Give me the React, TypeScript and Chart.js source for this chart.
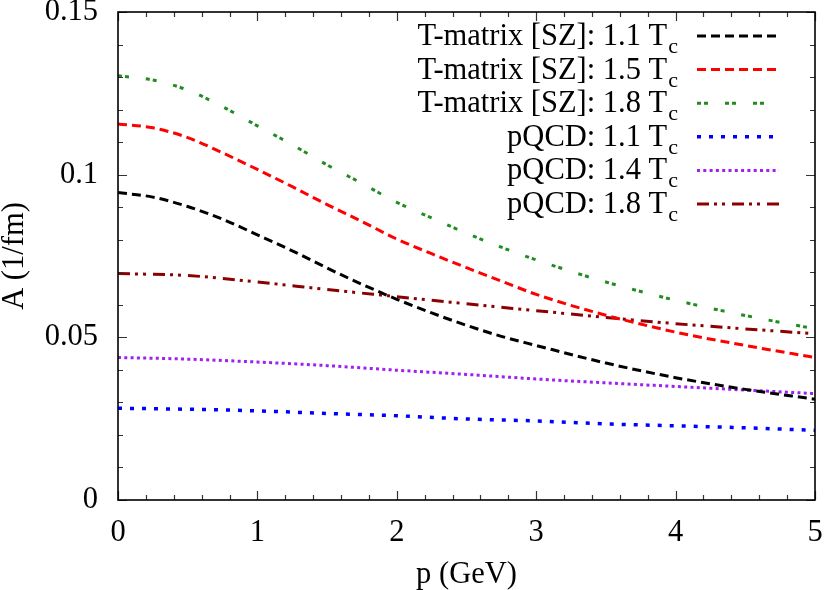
import React, { useEffect, useRef } from "react";
import { Chart, registerables } from "chart.js";

Chart.register(...registerables);

// ---- data ----
// T-matrix curves are read on a finer momentum grid (they bend more)
const pFine = [0, 0.25, 0.5, 0.75, 1, 1.25, 1.5, 1.75, 2, 2.25, 2.5, 2.75, 3, 3.5, 4, 4.5, 5];
const tmatrix11 = [0.0945, 0.0931, 0.0902, 0.0863, 0.0815, 0.0766, 0.0713, 0.0663, 0.0617, 0.0575, 0.0537, 0.0503, 0.0475, 0.0421, 0.0376, 0.034, 0.031];
const tmatrix15 = [0.1156, 0.1144, 0.1114, 0.1067, 0.1016, 0.0963, 0.0908, 0.0856, 0.0802, 0.0757, 0.0714, 0.0673, 0.0632, 0.0568, 0.0516, 0.0475, 0.0438];
const tmatrix18 = [0.1304, 0.1291, 0.126, 0.1209, 0.115, 0.1092, 0.103, 0.0973, 0.0915, 0.0867, 0.082, 0.0777, 0.0738, 0.067, 0.0614, 0.0567, 0.0526];
// pQCD curves on a coarser grid
const pCoarse = [0, 0.5, 1, 1.5, 2, 2.5, 3, 3.5, 4, 4.5, 5];
const pqcd11 = [0.0282, 0.0279, 0.0274, 0.0266, 0.0259, 0.0249, 0.0243, 0.0234, 0.0228, 0.0222, 0.0214];
const pqcd14 = [0.0438, 0.0433, 0.0424, 0.0413, 0.0399, 0.0386, 0.0372, 0.036, 0.0349, 0.0338, 0.0327];
const pqcd18 = [0.0696, 0.069, 0.067, 0.0647, 0.0625, 0.0603, 0.0582, 0.0561, 0.0542, 0.0526, 0.0511];

const seriesLabels = [
  "T-matrix [SZ]: 1.1 T",
  "T-matrix [SZ]: 1.5 T",
  "T-matrix [SZ]: 1.8 T",
  "pQCD: 1.1 T",
  "pQCD: 1.4 T",
  "pQCD: 1.8 T",
];
const labelSubscript = "c";
const xTickValues = [0, 1, 2, 3, 4, 5];
const yTickValues = [0, 0.05, 0.1, 0.15];
const xTitle = "p (GeV)";
const yTitle = "A (1/fm)";

const FONT = "'Liberation Serif', 'Times New Roman', serif";
const FSIZE = 30.5;

const toPoints = (xs: number[], ys: number[]) => xs.map((x, i) => ({ x, y: ys[i] }));

const framePlugin = {
  id: "gnuframe",
  afterDraw(chart: any) {
    const { ctx, chartArea: a, scales } = chart;
    const xs = scales.x;
    const ys = scales.y;
    ctx.save();
    // inward ticks on all four sides
    ctx.strokeStyle = "#333";
    ctx.lineWidth = 1.2;
    ctx.setLineDash([]);
    ctx.beginPath();
    for (let k = 0; k <= 25; k++) {
      const v = k * 0.2;
      const major = k % 5 === 0;
      const len = major ? 9 : 5;
      const px = Math.round(xs.getPixelForValue(v)) + 0.5;
      ctx.moveTo(px, a.bottom);
      ctx.lineTo(px, a.bottom - len);
      ctx.moveTo(px, a.top);
      ctx.lineTo(px, a.top + len);
    }
    for (let k = 0; k <= 15; k++) {
      const v = k * 0.01;
      const major = k % 5 === 0;
      const len = major ? 9 : 5;
      const py = Math.round(ys.getPixelForValue(v)) + 0.5;
      ctx.moveTo(a.left, py);
      ctx.lineTo(a.left + len, py);
      ctx.moveTo(a.right, py);
      ctx.lineTo(a.right - len, py);
    }
    ctx.stroke();
    // border
    ctx.strokeStyle = "#000";
    ctx.lineWidth = 1.6;
    ctx.strokeRect(a.left, a.top, a.right - a.left, a.bottom - a.top);

    // key
    const mainFont = `${FSIZE}px ${FONT}`;
    const subFont = `22px ${FONT}`;
    const textRight = 678;
    const sampleL = 697;
    const sampleR = 779;
    const top = 36;
    const step = 33.6;
    chart.data.datasets.forEach((ds: any, i: number) => {
      const yy = top + i * step;
      ctx.font = subFont;
      const sw = ctx.measureText(labelSubscript).width;
      ctx.fillStyle = "#000";
      ctx.font = mainFont;
      ctx.textAlign = "right";
      ctx.textBaseline = "alphabetic";
      ctx.fillText(ds.label, textRight - sw - 1, yy + 9);
      ctx.font = subFont;
      ctx.textAlign = "left";
      ctx.fillText(labelSubscript, textRight - sw, yy + 17);
      ctx.beginPath();
      ctx.setLineDash(ds.borderDash || []);
      ctx.strokeStyle = ds.borderColor;
      ctx.lineWidth = ds.borderWidth;
      ctx.lineCap = "butt";
      ctx.moveTo(sampleL, yy);
      ctx.lineTo(sampleR, yy);
      ctx.stroke();
    });
    ctx.restore();
  },
};

export default function App() {
  const ref = useRef<HTMLCanvasElement | null>(null);
  useEffect(() => {
    if (!ref.current) return;
    const mk = (i: number, xs: number[], data: number[], color: string, dash: number[], width: number) => ({
      label: seriesLabels[i],
      data: toPoints(xs, data),
      borderColor: color,
      borderDash: dash,
      borderWidth: width,
      borderCapStyle: "butt",
      pointRadius: 0,
      fill: false,
      cubicInterpolationMode: "monotone",
    });
    const chart = new Chart(ref.current, {
      type: "line",
      data: {
        datasets: [
          mk(0, pFine, tmatrix11, "#000000", [9, 5], 3),
          mk(1, pFine, tmatrix15, "#ff0000", [9, 5], 3),
          mk(2, pFine, tmatrix18, "#228b22", [4, 3, 4, 17], 3),
          mk(3, pCoarse, pqcd11, "#0000ff", [4, 8], 3.5),
          mk(4, pCoarse, pqcd14, "#a020f0", [3, 3.3], 3),
          mk(5, pCoarse, pqcd18, "#8b0000", [12, 5, 3, 5, 3, 7], 3),
        ] as any,
      },
      options: {
        responsive: false,
        animation: false,
        devicePixelRatio: 1,
        layout: { padding: { top: 12, right: 15, left: 0, bottom: 0 } },
        plugins: { legend: { display: false }, tooltip: { enabled: false } },
        scales: {
          x: {
            type: "linear",
            min: 0,
            max: 5,
            afterBuildTicks: (s: any) => {
              s.ticks = xTickValues.map((v) => ({ value: v }));
            },
            afterFit: (s: any) => {
              s.height = 90;
              s.paddingLeft = 0;
              s.paddingRight = 0;
            },
            grid: { display: false, drawTicks: false },
            border: { display: false },
            ticks: {
              color: "#000",
              font: { family: FONT, size: FSIZE },
              padding: 15,
              maxRotation: 0,
              callback: (v: any) => String(v),
            },
            title: {
              display: true,
              text: xTitle,
              color: "#000",
              font: { family: FONT, size: FSIZE, lineHeight: 1 },
              padding: { top: 0, bottom: 0 },
            },
          },
          y: {
            type: "linear",
            min: 0,
            max: 0.15,
            afterBuildTicks: (s: any) => {
              s.ticks = yTickValues.map((v) => ({ value: v }));
            },
            afterFit: (s: any) => {
              s.width = 118;
              s.paddingTop = 0;
              s.paddingBottom = 0;
            },
            grid: { display: false, drawTicks: false },
            border: { display: false },
            ticks: {
              color: "#000",
              font: { family: FONT, size: FSIZE },
              padding: 20,
              callback: (v: any) => String(+Number(v).toFixed(2)),
            },
            title: {
              display: true,
              text: yTitle,
              color: "#000",
              font: { family: FONT, size: FSIZE, lineHeight: 1 },
              padding: { top: 0, bottom: 0 },
            },
          },
        },
      },
      plugins: [framePlugin],
    } as any);
    return () => chart.destroy();
  }, []);
  return (
    <canvas
      ref={ref}
      width={830}
      height={590}
      style={{ position: "absolute", left: 0, top: 0, width: 830, height: 590, background: "#fff" }}
    />
  );
}
